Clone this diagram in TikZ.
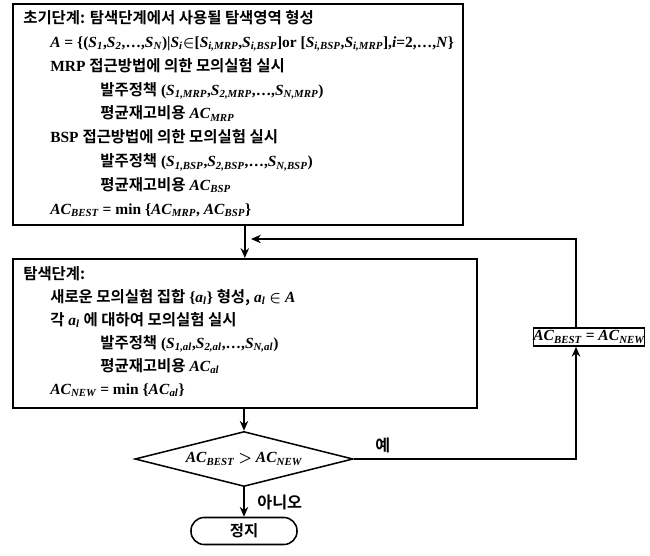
\documentclass[tikz,border=0pt]{standalone}
\usepackage{fontspec}
\setmainfont{Liberation Serif}
\newfontfamily\krfont{Noto Sans CJK KR}[BoldFont={Noto Sans CJK KR Bold}]
\usetikzlibrary{
    shapes.geometric,
    arrows.meta,
    positioning,
    calc
}
\newcommand{\kr}[1]{{\krfont\bfseries #1}}
\newcommand{\mv}[2]{\textit{#1}\textsubscript{\itshape #2}}
\newcommand{\indA}{\hspace*{0.675cm}}
\newcommand{\indB}{\hspace*{1.925cm}}

\begin{document}
\begin{tikzpicture}[
            x=0.025cm, y=-0.025cm,
            stagebox/.style={draw, line width=1.1pt, inner sep=0pt, anchor=north west},
            stagetext/.style={anchor=north west, inner sep=0pt, align=left, font=\fontsize{11}{17}\selectfont\bfseries\boldmath},
            decision/.style={diamond, aspect=3.96, draw, line width=1.1pt, minimum width=5.45cm, minimum height=1.375cm, inner sep=0pt, font=\fontsize{11}{13}\selectfont\bfseries\boldmath},
            update/.style={draw, line width=1.1pt, minimum width=2.7cm, minimum height=0.45cm, inner sep=0pt, font=\fontsize{11}{13}\selectfont\bfseries\boldmath},
            terminal/.style={draw, line width=1.1pt, rounded corners=0.33cm, minimum width=2.65cm, minimum height=0.675cm, inner sep=0pt, font=\fontsize{11}{13}\selectfont},
            lbl/.style={font=\fontsize{11.5}{13}\selectfont, inner sep=1pt},
            arr/.style={-{Stealth[length=7pt, width=6pt]}, line width=1.1pt},
        ]
            \useasboundingbox (0,0) rectangle (650,556);

            % ====== Initial stage ======
            \node[stagebox, minimum width=11.25cm, minimum height=5.525cm] (init) at (12,3) {};
            \node[stagetext] (inittext) at (23,10) {%
                \kr{초기단계: 탐색단계에서 사용될 탐색영역 형성}\\
                \indA\textit{A} = \{(\mv{S}{1},\mv{S}{2},\ldots,\mv{S}{N})|\mv{S}{i}$\in$[\mv{S}{i,MRP},\mv{S}{i,BSP}]or [\mv{S}{i,BSP},\mv{S}{i,MRP}],\textit{i}=2,\ldots,\textit{N}\}\\
                \indA MRP \kr{접근방법에 의한 모의실험 실시}\\
                \indB\kr{발주정책} (\mv{S}{1,MRP},\mv{S}{2,MRP},\ldots,\mv{S}{N,MRP})\\
                \indB\kr{평균재고비용} \mv{AC}{MRP}\\
                \indA BSP \kr{접근방법에 의한 모의실험 실시}\\
                \indB\kr{발주정책} (\mv{S}{1,BSP},\mv{S}{2,BSP},\ldots,\mv{S}{N,BSP})\\
                \indB\kr{평균재고비용} \mv{AC}{BSP}\\
                \indA\mv{AC}{BEST} = min \{\mv{AC}{MRP}, \mv{AC}{BSP}\}};

            % ====== Search stage ======
            \node[stagebox, minimum width=11.6cm, minimum height=3.725cm] (search) at (12,258) {};
            \node[stagetext, font=\fontsize{11}{16.4}\selectfont\bfseries\boldmath] (searchtext) at (23,266) {%
                \kr{탐색단계:}\\
                \indA\kr{새로운 모의실험 집합} \{\mv{a}{l}\} \kr{형성,} \mv{a}{l} $\in$ \textit{A}\\
                \indA\kr{각} \mv{a}{l} \kr{에 대하여 모의실험 실시}\\
                \indB\kr{발주정책} (\mv{S}{1,al},\mv{S}{2,al},\ldots,\mv{S}{N,al})\\
                \indB\kr{평균재고비용} \mv{AC}{al}\\
                \indA\mv{AC}{NEW} = min \{\mv{AC}{al}\}};

            % ====== Decision, update, stop ======
            \node[decision] (dec) at (244,459) {\mv{AC}{BEST} $>$ \mv{AC}{NEW}};
            \node[update] (upd) at (589,337) {\mv{AC}{BEST} = \mv{AC}{NEW}};
            \node[terminal] (stop) at (244,531) {\kr{정지}};

            \coordinate (turn) at (576,239);
            \coordinate (join) at (251,239);

            % ====== Arrows ======
            \draw[arr] (search.north |- init.south) -- (search.north);
            \draw[arr] (dec.north |- search.south) -- (dec.north);
            \draw[arr] (dec.south) -- (stop.north)
                node[midway, right=8pt, lbl] {\kr{아니오}};
            \draw[arr] (dec.east) -| (upd.south -| turn)
                node[pos=0.065, above=3pt, lbl] {\kr{예}};
            \draw[arr] (upd.north -| turn) |- (join);
        \end{tikzpicture}
\end{document}
